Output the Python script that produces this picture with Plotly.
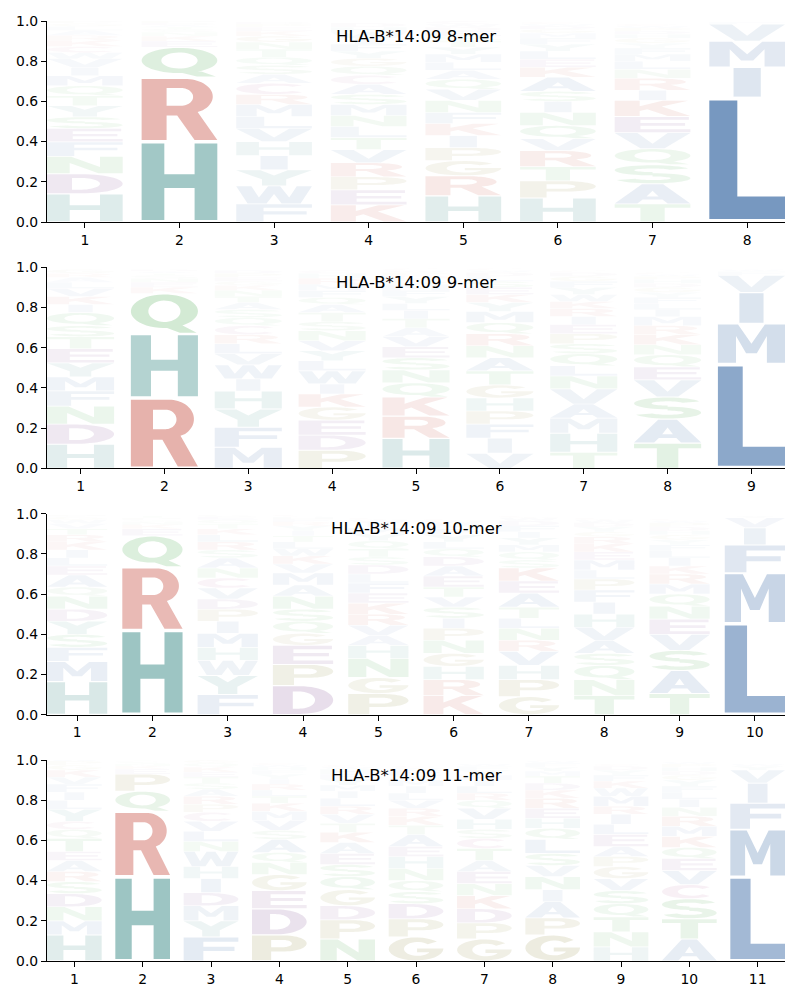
import numpy as np
import plotly.graph_objects as go

allele = "HLA-B*14:09"
lengths = [8, 9, 10, 11]

# ---- letters (bottom -> top) and their probabilities, per position ----
letters_8mer = ["HDNFESYTQMIVWCKRALGP", "HRQEKNSTADP", "FWYIHVLMRCASQTNGKEPD",
                "KEPRVTLNMSACQGYFIWHD", "HRGPIKFNVQALMYTSEDWC", "HPTRVQNISAKELYFMGDWC",
                "TASQVEKIRNLMFYGHDPWC", "LIMVFY"]
probs_8mer = [
    [.14, .10, .087, .072, .066, .058, .055, .05, .05, .05, .04, .045, .03, .03, .03, .025, .025, .02, .015, .012],
    [.40, .32, .15, .03, .025, .02, .015, .01, .01, .01, .01],
    [.09, .09, .08, .07, .07, .065, .06, .06, .05, .055, .045, .045, .04, .04, .035, .03, .025, .02, .015, .01],
    [.085, .075, .065, .07, .065, .06, .055, .055, .055, .05, .05, .045, .045, .04, .035, .035, .03, .03, .025, .02],
    [.13, .10, .075, .065, .06, .06, .055, .06, .055, .05, .045, .04, .04, .035, .03, .025, .025, .02, .015, .015],
    [.12, .085, .07, .08, .06, .065, .065, .055, .05, .07, .05, .04, .04, .035, .03, .025, .02, .015, .01, .01],
    [.09, .10, .095, .08, .08, .08, .08, .05, .06, .045, .04, .035, .03, .025, .025, .02, .015, .015, .01, .01],
    [.62, .15, .13, .085, .01, .005],
]

letters_9mer = ["HDNFMYETSQIKVLARGPCW", "RHQKENSTADP", "MFYHIWVLRCQSATNKGEPD",
                "PDEGKIWLYVNSTAQFMRHC", "HRKQNSEVATILYFMGDPWC", "VIFPHGTANRQMYKESLDWC",
                "THMAVNLQSPEIRKWYFGDC", "TASVEQNKRMILFYGDHPWC", "LMIVFW"]
probs_9mer = [
    [.12, .10, .09, .075, .07, .07, .07, .06, .055, .065, .04, .04, .04, .03, .025, .02, .02, .005, .005, .005],
    [.35, .32, .20, .03, .025, .02, .015, .01, .01, .01, .005],
    [.105, .10, .09, .09, .06, .07, .055, .05, .045, .045, .04, .04, .035, .03, .03, .025, .02, .02, .02, .015],
    [.09, .075, .075, .065, .065, .05, .065, .05, .05, .05, .05, .045, .045, .04, .035, .035, .03, .03, .025, .015],
    [.15, .11, .095, .07, .065, .06, .055, .05, .045, .045, .04, .035, .035, .03, .03, .025, .02, .015, .01, .01],
    [.075, .075, .07, .065, .065, .065, .07, .065, .06, .06, .055, .055, .045, .04, .035, .03, .025, .02, .01, .01],
    [.08, .095, .075, .07, .075, .065, .05, .06, .05, .05, .045, .04, .04, .035, .035, .035, .03, .025, .02, .01],
    [.125, .12, .11, .085, .065, .06, .05, .05, .045, .045, .035, .03, .03, .025, .025, .02, .02, .015, .01, .01],
    [.52, .20, .155, .085, .02, .01],
]

letters_10mer = ["HMFSYDNQAELIKRTVWGPC", "HRQEKNSPTA", "FYWHMIPDVCNASRLKTQEG",
                 "DPEGQSNAMVKWLTIYRFHC", "PGNHAVRKEFLDSTQYMIWC", "KRHGNPISVTEADQLYFMWC",
                 "GPHVRNLTAEKSQMYIFDWC", "TNQSAVHIFPLMEKRGYDWC", "TASVENQMRKILFYGHDPWC",
                 "LMFIVY"]
probs_10mer = [
    [.165, .10, .07, .065, .065, .06, .065, .045, .06, .045, .04, .04, .04, .035, .03, .025, .02, .015, .01, .005],
    [.42, .315, .155, .035, .02, .015, .01, .01, .01, .005],
    [.10, .095, .075, .065, .07, .06, .06, .05, .055, .05, .05, .05, .04, .04, .035, .03, .025, .02, .015, .01],
    [.145, .105, .095, .06, .06, .06, .065, .055, .06, .045, .04, .035, .035, .03, .025, .025, .02, .015, .01, .01],
    [.105, .08, .095, .065, .05, .05, .055, .055, .05, .05, .045, .045, .04, .04, .04, .035, .03, .025, .015, .01],
    [.095, .08, .065, .065, .065, .06, .05, .055, .05, .05, .055, .05, .045, .04, .035, .035, .03, .025, .015, .01],
    [.09, .085, .07, .07, .055, .06, .05, .055, .07, .06, .065, .04, .04, .035, .035, .03, .03, .025, .015, .01],
    [.095, .08, .07, .06, .065, .065, .065, .06, .06, .055, .045, .05, .04, .04, .035, .025, .025, .02, .015, .01],
    [.105, .115, .10, .08, .075, .065, .06, .05, .05, .04, .04, .035, .03, .025, .025, .02, .02, .02, .01, .01],
    [.455, .25, .14, .085, .05, .01],
]

letters_11mer = ["HMNDSRAETQCYLIFVKGPW", "HRQPEKNSDT", "FYMDIHWNLVCPRASTEKQG",
                 "PDEGNQASVMKTLRIYFHWC", "NPDGQSEAKTVRLIMYFHWC", "GPDSQNHEATKRVLIMYFWC",
                 "GPDKNEATCSHVQRLIMYFW", "GPAINVSLQHERKDTMYFWC", "HNTQSVGPAELIRMWKFYDC",
                 "ATSCVEQKMRNILFYGDHPW", "LMFIVYW"]
probs_11mer = [
    [.13, .07, .07, .065, .06, .05, .055, .045, .065, .045, .04, .06, .045, .04, .04, .035, .035, .025, .02, .01],
    [.42, .325, .10, .085, .025, .015, .01, .01, .005, .005],
    [.12, .08, .075, .065, .07, .06, .075, .05, .05, .05, .045, .04, .04, .035, .03, .03, .025, .025, .02, .015],
    [.13, .13, .09, .08, .06, .05, .065, .045, .05, .045, .04, .035, .03, .03, .025, .025, .02, .015, .01, .01],
    [.11, .095, .07, .08, .065, .06, .055, .055, .05, .045, .045, .04, .04, .035, .03, .03, .025, .025, .01, .01],
    [.12, .09, .075, .06, .055, .06, .06, .05, .06, .045, .045, .04, .04, .035, .035, .03, .025, .025, .01, .01],
    [.11, .08, .07, .065, .06, .06, .055, .06, .05, .045, .05, .055, .04, .035, .035, .03, .025, .025, .02, .01],
    [.13, .085, .08, .06, .065, .055, .06, .07, .055, .05, .05, .05, .04, .035, .035, .025, .02, .02, .01, .005],
    [.07, .075, .075, .065, .065, .06, .06, .05, .05, .06, .05, .05, .04, .05, .04, .035, .03, .025, .02, .01],
    [.11, .10, .10, .07, .07, .06, .055, .055, .05, .05, .045, .04, .035, .03, .03, .025, .02, .02, .015, .01],
    [.42, .235, .13, .10, .065, .02, .01],
]

logos = [(8, letters_8mer, probs_8mer), (9, letters_9mer, probs_9mer),
         (10, letters_10mer, probs_10mer), (11, letters_11mer, probs_11mer)]

# ---- colours (base colour, alpha = probability) ----
BLUE = (35, 88, 154)
TEAL = (22, 117, 112)
RED = (184, 35, 18)
PURPLE = (95, 30, 115)
PINK = (150, 45, 110)
GREEN = (35, 150, 40)
OLIVE = (115, 110, 15)
aa_color = {}
for a in "AVILMFW":
    aa_color[a] = BLUE
for a in "HY":
    aa_color[a] = TEAL
for a in "KR":
    aa_color[a] = RED
for a in "DE":
    aa_color[a] = PURPLE
aa_color["C"] = PINK
for a in "NQST":
    aa_color[a] = GREEN
for a in "GP":
    aa_color[a] = OLIVE


# ---- glyph outlines in a unit box ----
def ell(cx, cy, rx, ry, a0, a1, n=28):
    t = np.radians(np.linspace(a0, a1, n))
    return [(cx + rx * np.cos(v), cy + ry * np.sin(v)) for v in t]


def band(cx, cy, rxo, ryo, rxi, ryi, a0, a1, n=30):
    return ell(cx, cy, rxo, ryo, a0, a1, n) + ell(cx, cy, rxi, ryi, a1, a0, n)


def area(poly):
    s = 0.0
    for i in range(len(poly)):
        x1, y1 = poly[i]
        x2, y2 = poly[(i + 1) % len(poly)]
        s += x1 * y2 - x2 * y1
    return s / 2


def orient(poly, ccw=True):
    a = area(poly)
    if (a > 0) != ccw:
        return poly[::-1]
    return poly


G = {}
G["A"] = [([(0, 0), (.3, 0), (.37, .2), (.63, .2), (.7, 0), (1, 0), (.64, 1), (.36, 1)], False),
          ([(.42, .36), (.58, .36), (.5, .66)], True)]
G["C"] = [(ell(.5, .5, .5, .5, 42, 318) + ell(.55, .5, .26, .3, 318, 42), False)]
G["D"] = [([(0, 0), (.45, 0)] + ell(.45, .5, .55, .5, -90, 90) + [(0, 1)], False),
          ([(.33, .19), (.43, .19)] + ell(.43, .5, .27, .31, -90, 90) + [(.33, .81)], True)]
G["E"] = [([(0, 0), (1, 0), (1, .19), (.34, .19), (.34, .42), (.93, .42), (.93, .6), (.34, .6),
            (.34, .81), (.98, .81), (.98, 1), (0, 1)], False)]
G["F"] = [([(0, 0), (.36, 0), (.36, .41), (.93, .41), (.93, .6), (.36, .6), (.36, .81), (1, .81),
            (1, 1), (0, 1)], False)]
G["G"] = [(ell(.5, .5, .5, .5, 40, 360) + [(1, .52), (.52, .52), (.52, .36), (.74, .36)]
           + ell(.53, .5, .25, .3, -35, -318), False)]
G["H"] = [([(0, 0), (.3, 0), (.3, .42), (.7, .42), (.7, 0), (1, 0), (1, 1), (.7, 1), (.7, .6),
            (.3, .6), (.3, 1), (0, 1)], False)]
G["I"] = [([(.32, 0), (.68, 0), (.68, 1), (.32, 1)], False)]
G["K"] = [([(0, 0), (.33, 0), (.33, .33), (.43, .45), (.7, 0), (1, 0), (.62, .62), (.97, 1),
            (.63, 1), (.33, .65), (.33, 1), (0, 1)], False)]
G["L"] = [([(0, 0), (1, 0), (1, .19), (.37, .19), (.37, 1), (0, 1)], False)]
G["M"] = [([(0, 0), (.27, 0), (.27, .7), (.42, .25), (.58, .25), (.73, .7), (.73, 0), (1, 0),
            (1, 1), (.7, 1), (.5, .5), (.3, 1), (0, 1)], False)]
G["N"] = [([(0, 0), (.3, 0), (.3, .62), (.68, 0), (1, 0), (1, 1), (.7, 1), (.7, .38), (.32, 1),
            (0, 1)], False)]
G["P"] = [([(0, 0), (.35, 0), (.35, .36), (.6, .36)] + ell(.6, .68, .4, .32, -90, 90) + [(0, 1)], False),
          ([(.35, .53), (.57, .53)] + ell(.57, .675, .16, .145, -90, 90) + [(.35, .82)], True)]
G["Q"] = [(ell(.5, .56, .5, .44, 0, 360, 48), False),
          (ell(.5, .56, .24, .28, 0, 360, 40), True),
          ([(.5, .15), (.73, 0), (.98, 0), (.75, .21)], False)]
G["R"] = [([(0, 0), (.33, 0), (.33, .4), (.47, .4), (.7, 0), (1, 0), (.74, .46)]
           + ell(.57, .71, .37, .29, -50, 90) + [(0, 1)], False),
          ([(.33, .56), (.52, .56)] + ell(.52, .705, .16, .145, -90, 90) + [(.33, .85)], True)]
G["S"] = [(band(.5, .72, .5, .28, .24, .1, 20, 270), False),
          (band(.5, .28, .5, .28, .24, .1, 200, 450), False)]
G["T"] = [([(0, 1), (0, .81), (.34, .81), (.34, 0), (.66, 0), (.66, .81), (1, .81), (1, 1)], False)]
G["V"] = [([(0, 1), (.3, 1), (.5, .3), (.7, 1), (1, 1), (.66, 0), (.34, 0)], False)]
G["W"] = [([(0, 1), (.2, 1), (.3, .35), (.42, 1), (.58, 1), (.7, .35), (.8, 1), (1, 1), (.85, 0),
            (.6, 0), (.5, .55), (.4, 0), (.15, 0)], False)]
G["Y"] = [([(.34, 0), (.66, 0), (.66, .4), (1, 1), (.68, 1), (.5, .65), (.32, 1), (0, 1), (.34, .4)], False)]


def glyph_path(letter, x0, x1, y0, y1):
    parts = []
    for poly, hole in G[letter]:
        poly = orient(poly, ccw=not hole)
        pts = [(x0 + u * (x1 - x0), y0 + v * (y1 - y0)) for u, v in poly]
        s = "M" + " L".join(f"{x:.4f},{y:.4f}" for x, y in pts) + " Z"
        parts.append(s)
    return " ".join(parts)


# ---- layout geometry (page body adds an 8px margin) ----
W, H = 784, 984
ml, mr, mt, mb = 39, 7, 13, 31
ph = H - mt - mb
bottom_px = H - mb
tops = [13, 259.33, 505.67, 752]
heights = 201
domains = [((bottom_px - (t + heights)) / ph, (bottom_px - t) / ph) for t in tops]
domains[0] = (domains[0][0], 1.0)
domains[-1] = (0.0, domains[-1][1])

fig = go.Figure()
shapes = []
annotations = []
font_tick = dict(family="DejaVu Sans", size=13.9, color="black")

for i, (n, lets, probs) in enumerate(logos):
    k = i + 1
    xr = "x" if k == 1 else f"x{k}"
    yr = "y" if k == 1 else f"y{k}"
    positions = list(range(1, n + 1))
    totals = []
    for pos, col_letters, col_probs in zip(positions, lets, probs):
        y = 0.0
        for a, p in zip(col_letters, col_probs):
            x0, x1 = pos - 0.4, pos + 0.4
            y0, y1 = y + 0.025 * p, y + 0.975 * p
            r, g, b = aa_color[a]
            shapes.append(dict(type="path", path=glyph_path(a, x0, x1, y0, y1),
                               xref=xr, yref=yr, fillcolor=f"rgba({r},{g},{b},{p:.3f})",
                               line=dict(width=0), fillrule="nonzero", layer="above"))
            y += p
        totals.append(y)
    fig.add_trace(go.Scatter(x=positions, y=totals, mode="markers", marker=dict(opacity=0),
                             hoverinfo="skip", showlegend=False, xaxis=xr, yaxis=yr))
    axis_common = dict(showline=True, linecolor="black", linewidth=1.1, ticks="outside",
                       ticklen=5, tickwidth=1.1, tickcolor="black", showgrid=False,
                       zeroline=False, tickfont=font_tick, fixedrange=True, automargin=False)
    fig.layout["xaxis" if k == 1 else f"xaxis{k}"] = dict(
        domain=[0, 1], range=[0.6, n + 0.4], anchor=yr, tickmode="array",
        tickvals=positions, ticktext=[str(p) for p in positions], **axis_common)
    fig.layout["yaxis" if k == 1 else f"yaxis{k}"] = dict(
        domain=list(domains[i]), range=[0, 1], anchor=xr, tickmode="array",
        tickvals=[0, .2, .4, .6, .8, 1.0], ticktext=["0.0", "0.2", "0.4", "0.6", "0.8", "1.0"],
        **axis_common)
    annotations.append(dict(text=f"{allele} {n}-mer", x=0.5, xref="paper", y=domains[i][1],
                            yref="paper", yanchor="middle", xanchor="center", yshift=-15,
                            showarrow=False, font=dict(family="DejaVu Sans", size=16.5, color="black")))

fig.update_layout(width=W, height=H, margin=dict(l=ml, r=mr, t=mt, b=mb, autoexpand=False),
                  plot_bgcolor="white", paper_bgcolor="white", shapes=shapes,
                  annotations=annotations, showlegend=False)
fig.write_html("out.html")
